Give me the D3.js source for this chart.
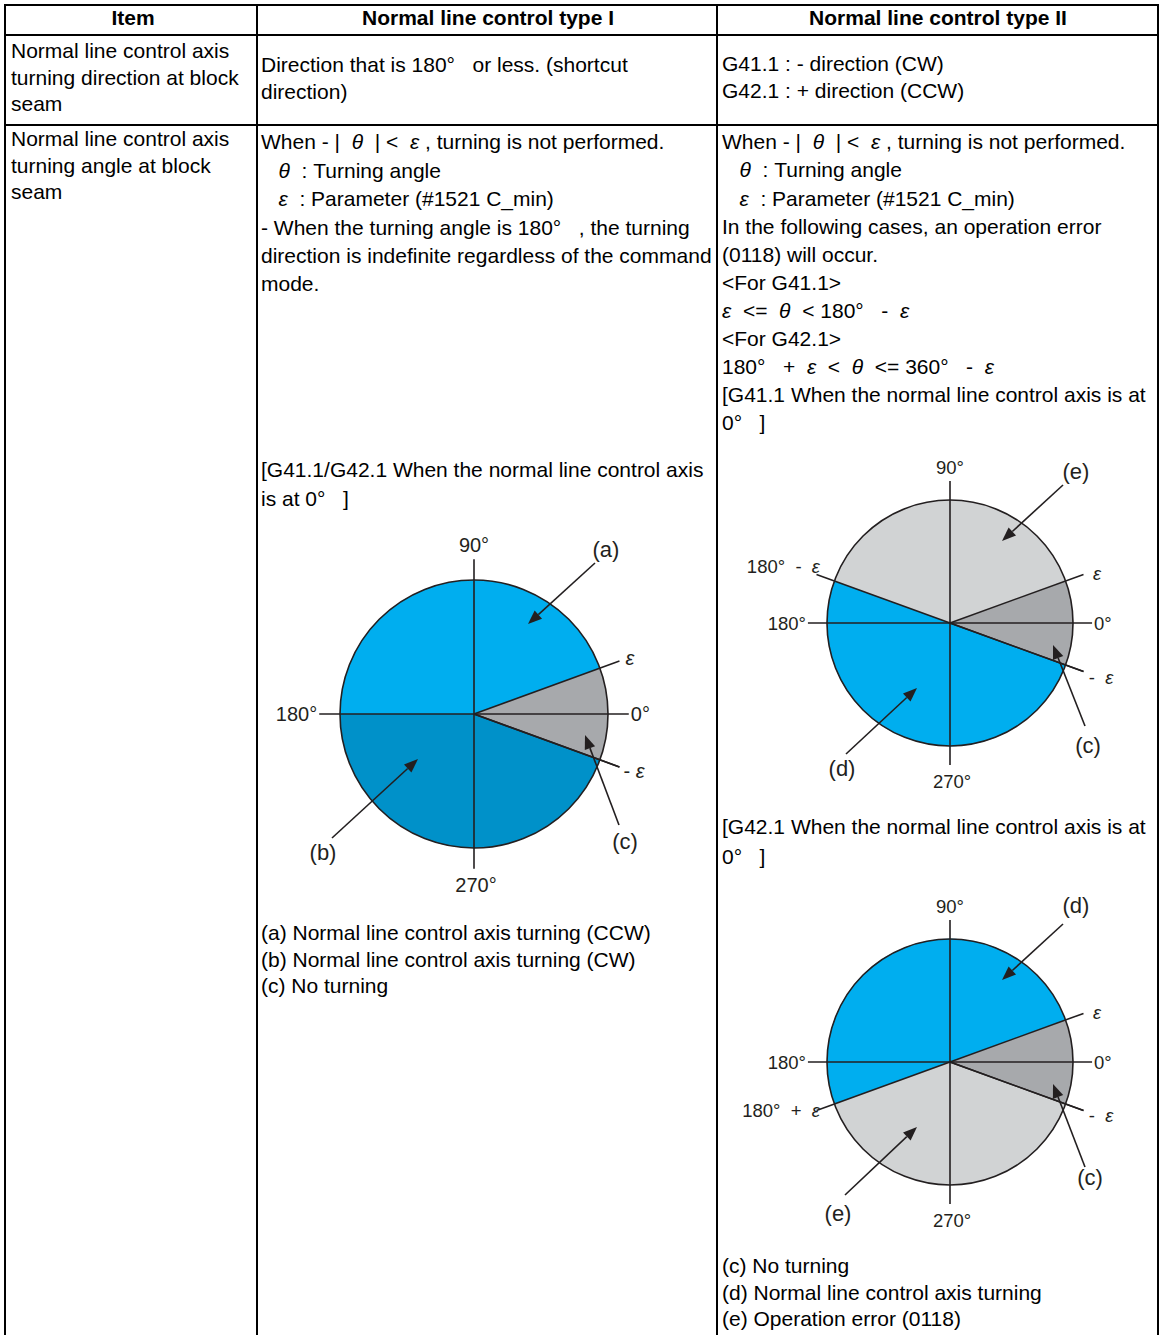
<!DOCTYPE html>
<html><head><meta charset="utf-8">
<script src="https://cdn.jsdelivr.net/npm/d3@7"></script>
<style>
html,body{margin:0;padding:0;background:#fff;}
svg{display:block;}
text{white-space:pre;}
</style></head>
<body>
<svg id="chart" width="1167" height="1335"></svg>
<script>
// ---------- content ----------
const headers = ["Item", "Normal line control type I", "Normal line control type II"];
const row1Item = ["Normal line control axis", "turning direction at block", "seam"];
const row1TypeI = ["Direction that is 180°   or less. (shortcut", "direction)"];
const row1TypeII = ["G41.1 : - direction (CW)", "G42.1 : + direction (CCW)"];
const row2Item = ["Normal line control axis", "turning angle at block", "seam"];
const row2TypeI = [
  "When - |  θ  | <  ε , turning is not performed.",
  "   θ  : Turning angle",
  "   ε  : Parameter (#1521 C_min)",
  "- When the turning angle is 180°   , the turning",
  "direction is indefinite regardless of the command",
  "mode."
];
const captionTypeI = ["[G41.1/G42.1 When the normal line control axis", "is at 0°   ]"];
const legendTypeI = ["(a) Normal line control axis turning (CCW)", "(b) Normal line control axis turning (CW)", "(c) No turning"];
const row2TypeII = [
  "When - |  θ  | <  ε , turning is not performed.",
  "   θ  : Turning angle",
  "   ε  : Parameter (#1521 C_min)",
  "In the following cases, an operation error",
  "(0118) will occur.",
  "<For G41.1>",
  "ε  <=  θ  < 180°   -  ε",
  "<For G42.1>",
  "180°   +  ε  <  θ  <= 360°   -  ε",
  "[G41.1 When the normal line control axis is at",
  "0°   ]"
];
const captionG42 = ["[G42.1 When the normal line control axis is at", "0°   ]"];
const legendTypeII = ["(c) No turning", "(d) Normal line control axis turning", "(e) Operation error (0118)"];

// pie sectors: angles in degrees (counter-clockwise from 0°)
const pieIAngles = [-20, 20, 180, 340];
const pieIKinds = ["none", "ccw", "cw"];
const pieG41Angles = [-20, 20, 160, 340];
const pieG41Kinds = ["none", "error", "turn"];
const pieG42Angles = [-20, 20, 200, 340];
const pieG42Kinds = ["none", "turn", "error"];
const axisLabels = ["0°", "90°", "180°", "270°"];

// ---------- drawing ----------
const svg = d3.select("#chart");
const FONT = "'Liberation Sans', Arial, sans-serif";
const INK = "#231F20";

const color = d3.scaleOrdinal()
  .domain(["none", "ccw", "cw", "error", "turn"])
  .range(["#A7A9AC", "#00AEEF", "#0091C9", "#D1D3D4", "#00AEEF"]);

function richText(g, x, y, str, size, anchor) {
  const t = g.append("text").attr("x", x).attr("y", y)
    .attr("font-family", FONT).attr("font-size", size).attr("fill", "#000")
    .attr("xml:space", "preserve")
    .attr("text-anchor", anchor || "start");
  str.split(/([θε])/).forEach(part => {
    if (!part) return;
    const ts = t.append("tspan").text(part);
    if (part === "θ" || part === "ε") ts.attr("font-style", "italic");
  });
  return t;
}
function block(lines, x, centerY, step, size) {
  const g = svg.append("g");
  lines.forEach((l, i) => richText(g, x, centerY + i * step + size * 0.35, l, size));
}

// table grid
const colX = [5, 257, 717, 1158];
const rowY = [5, 35, 125];
const grid = svg.append("g").attr("stroke", "#000").attr("stroke-width", 2);
colX.forEach(x => grid.append("line").attr("x1", x).attr("x2", x).attr("y1", 4).attr("y2", 1335));
rowY.forEach(y => grid.append("line").attr("x1", 4).attr("x2", 1159).attr("y1", y).attr("y2", y));

// header
const headCenters = [133, 488, 938];
headers.forEach((h, i) => {
  svg.append("text").attr("x", headCenters[i]).attr("y", 25)
    .attr("text-anchor", "middle")
    .attr("font-family", FONT)
    .attr("font-weight", "bold").attr("font-size", 21).text(h);
});

block(row1Item, 11, 51, 26.5, 21);
block(row1TypeI, 261, 65, 27, 21);
block(row1TypeII, 722, 64, 27, 21);
block(row2Item, 11, 139, 26.5, 21);
block(row2TypeI, 261, 142, 28.4, 21);
block(captionTypeI, 261, 470, 29, 21);
block(legendTypeI, 261, 933, 26.5, 21);
block(row2TypeII, 722, 142, 28.1, 21);
block(captionG42, 722, 827, 30, 21);
block(legendTypeII, 722, 1266, 26.5, 21);

// ---------- pies ----------
const toRad = d3.scaleLinear().domain([0, 360]).range([Math.PI / 2, Math.PI / 2 - 2 * Math.PI]);
function pt(deg, rho) {
  const a = deg * Math.PI / 180;
  return [rho * Math.cos(a), -rho * Math.sin(a)];
}
function arrow(g, tail, tip) {
  const dx = tip[0] - tail[0], dy = tip[1] - tail[1];
  const L = Math.hypot(dx, dy), ux = dx / L, uy = dy / L;
  const hl = 14, hw = 5.5;
  const bx = tip[0] - ux * hl, by = tip[1] - uy * hl;
  g.append("line").attr("x1", tail[0]).attr("y1", tail[1]).attr("x2", bx).attr("y2", by)
    .attr("stroke", INK).attr("stroke-width", 1.6);
  g.append("path").attr("d", d3.line()([[tip[0], tip[1]], [bx - uy * hw, by + ux * hw], [bx + uy * hw, by - ux * hw]]) + "Z")
    .attr("fill", INK);
}
function label(g, x, y, str, anchor, size) {
  richText(g, x, y + size * 0.36, str, size, anchor).attr("fill", INK);
}

function drawPie(cfg) {
  const g = svg.append("g").attr("transform", `translate(${cfg.cx},${cfg.cy})`);
  const r = cfg.r, ext = r * 1.155;
  const arc = d3.arc().innerRadius(0).outerRadius(r);
  const sectors = cfg.kinds.map((k, i) => ({ kind: k, from: cfg.angles[i], to: cfg.angles[i + 1] }));
  g.selectAll("path.sector").data(sectors).join("path").attr("class", "sector")
    .attr("d", d => arc({ startAngle: toRad(d.to), endAngle: toRad(d.from) }))
    .attr("fill", d => color(d.kind));
  g.append("circle").attr("r", r).attr("fill", "none").attr("stroke", INK).attr("stroke-width", 1.6);
  // axes
  g.append("line").attr("x1", -ext).attr("x2", ext).attr("stroke", INK).attr("stroke-width", 1.6);
  g.append("line").attr("y1", -ext).attr("y2", ext).attr("stroke", INK).attr("stroke-width", 1.6);
  // boundary rays
  cfg.angles.filter(a => a % 90 !== 0).forEach(a => {
    const p = pt(a, ext);
    g.append("line").attr("x1", 0).attr("y1", 0).attr("x2", p[0]).attr("y2", p[1])
      .attr("stroke", INK).attr("stroke-width", 1.6);
  });
  const fs = cfg.fs, ls = cfg.ls;
  label(g, ext + 2, 0, axisLabels[0], "start", fs);
  label(g, 0, -ext - 14, axisLabels[1], "middle", fs);
  label(g, -ext - 2, 0, axisLabels[2], "end", fs);
  label(g, 2, ext + 16, axisLabels[3], "middle", fs);
  cfg.labels.forEach(l => label(g, l[0], l[1], l[2], l[3] || "middle", l[2].startsWith("(") ? ls : fs));
  cfg.arrows.forEach(a => arrow(g, a[0], a[1]));
}

drawPie({
  cx: 474, cy: 714, r: 134, fs: 20, ls: 22, angles: pieIAngles, kinds: pieIKinds,
  labels: [[132, -165, "(a)"], [-151, 138, "(b)"], [151, 127, "(c)"], [156, -56, "ε"], [160, 57, "- ε"]],
  arrows: [[[121, -151], [54, -90]], [[-142, 124], [-56, 45]], [[145, 111], [111, 21]]]
});
drawPie({
  cx: 950, cy: 623, r: 123, fs: 18.5, ls: 22, angles: pieG41Angles, kinds: pieG41Kinds,
  labels: [[126, -152, "(e)"], [138, 122, "(c)"], [-108, 145, "(d)"], [147, -50, "ε"], [151, 54, "-  ε"], [-130, -57, "180°  -  ε", "end"]],
  arrows: [[[113, -138], [52, -82]], [[135, 103], [103, 22]], [[-104, 131], [-33, 65]]]
});
drawPie({
  cx: 950, cy: 1062, r: 123, fs: 18.5, ls: 22, angles: pieG42Angles, kinds: pieG42Kinds,
  labels: [[126, -157, "(d)"], [140, 115, "(c)"], [-112, 151, "(e)"], [147, -50, "ε"], [151, 53, "-  ε"], [-130, 48, "180°  +  ε", "end"]],
  arrows: [[[113, -138], [52, -82]], [[135, 105], [103, 22]], [[-105, 133], [-33, 65]]]
});
</script>
</body></html>
